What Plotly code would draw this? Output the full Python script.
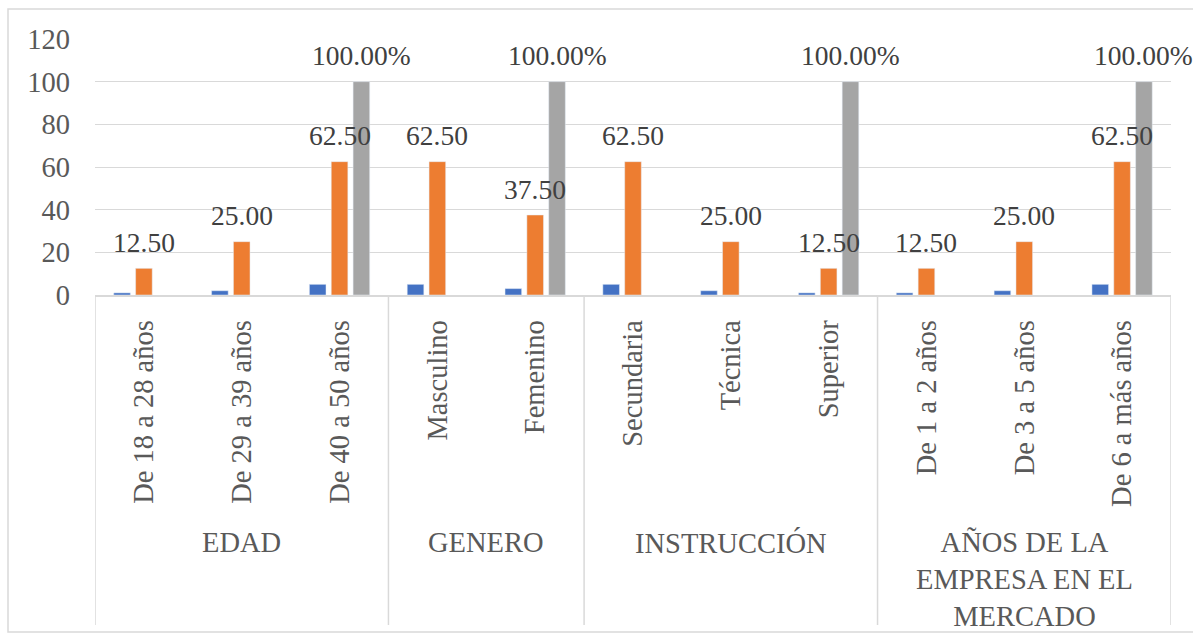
import plotly.graph_objects as go

categories = ["De 18 a 28 años", "De 29 a 39 años", "De 40 a 50 años",
              "Masculino", "Femenino",
              "Secundaria", "Técnica", "Superior",
              "De 1 a 2 años", "De 3 a 5 años", "De 6 a más años"]
groups = ["EDAD", "GENERO", "INSTRUCCIÓN", "AÑOS DE LA<br>EMPRESA EN EL<br>MERCADO"]
group_sizes = [3, 2, 3, 3]
frecuencia = [1, 2, 5, 5, 3, 5, 2, 1, 1, 2, 5]
porcentaje = [12.5, 25, 62.5, 62.5, 37.5, 62.5, 25, 12.5, 12.5, 25, 62.5]
acumulado = [None, None, 100, None, 100, None, None, 100, None, None, 100]
y_ticks = [0, 20, 40, 60, 80, 100, 120]

FONT = "Liberation Serif"
FS = 28.5
FS_LBL = 27.5
LBL = "#404040"
AX = "#595959"
GRID = "#d9d9d9"
BARGAP = 0.33
BARGROUPGAP = 0.24

fig = go.Figure()
fig.add_trace(go.Bar(x=categories, y=frecuencia, marker_color="#4472C4", name="Frecuencia"))
fig.add_trace(go.Bar(x=categories, y=porcentaje, marker_color="#ED7D31", name="Porcentaje"))
fig.add_trace(go.Bar(x=categories, y=acumulado, marker_color="#A5A5A5", name="Acumulado"))

W, H = 1193, 633
ml, mr, mt, mb = 95, 22, 39, 338
pw = W - ml - mr
ph = H - mt - mb

def px_x(v):
    return (v - ml) / pw

def px_y(v):
    return (H - mb - v) / ph

shapes = []
# outer frame
shapes.append(dict(type="rect", xref="paper", yref="paper",
                   x0=px_x(8), x1=px_x(1196), y0=px_y(632), y1=px_y(9),
                   line=dict(color=GRID, width=1.5), fillcolor="rgba(0,0,0,0)", layer="below"))
# group separators
bounds = [0]
for s in group_sizes:
    bounds.append(bounds[-1] + s)
for b in bounds:
    shapes.append(dict(type="line", xref="x", yref="paper",
                       x0=b - 0.5, x1=b - 0.5, y0=0, y1=px_y(625),
                       line=dict(color=GRID, width=1.5)))

annotations = []
for i, g in enumerate(groups):
    center = (bounds[i] + bounds[i + 1] - 1) / 2
    annotations.append(dict(x=center, xref="x", y=px_y(525), yref="paper",
                            text=g, showarrow=False, yanchor="top", xanchor="center",
                            font=dict(family=FONT, size=FS, color=AX), align="center"))

# data labels (drawn above all bars)
slot = (1 - BARGAP) / 3
for i, v in enumerate(porcentaje):
    annotations.append(dict(x=i, xref="x", y=v, yref="y", text=f"{v:.2f}",
                            showarrow=False, yanchor="middle", yshift=26,
                            font=dict(family=FONT, size=FS_LBL, color=LBL)))
for i, v in enumerate(acumulado):
    if v is None:
        continue
    annotations.append(dict(x=i + slot, xref="x", y=v, yref="y", text=f"{v:.2f}%",
                            showarrow=False, yanchor="middle", yshift=26,
                            font=dict(family=FONT, size=FS_LBL, color=LBL)))

fig.update_layout(
    width=W, height=H,
    margin=dict(l=ml, r=mr, t=mt, b=mb),
    paper_bgcolor="white", plot_bgcolor="white",
    barmode="group", bargap=BARGAP, bargroupgap=BARGROUPGAP,
    showlegend=False,
    shapes=shapes, annotations=annotations,
    font=dict(family=FONT, size=FS, color=AX),
)
fig.update_yaxes(range=[0, 120], tickvals=y_ticks, showgrid=True, gridcolor=GRID, gridwidth=1,
                 zeroline=False, showline=False, ticks="",
                 tickfont=dict(family=FONT, size=FS, color=AX), ticklabelstandoff=24)
fig.update_xaxes(type="category", range=[-0.5, len(categories) - 0.5], autorange=False,
                 tickangle=-90, showline=True, linecolor=GRID, linewidth=1.5,
                 ticks="", showgrid=False,
                 tickfont=dict(family=FONT, size=FS, color=AX), ticklabelstandoff=12)

fig.write_html("out.html")
